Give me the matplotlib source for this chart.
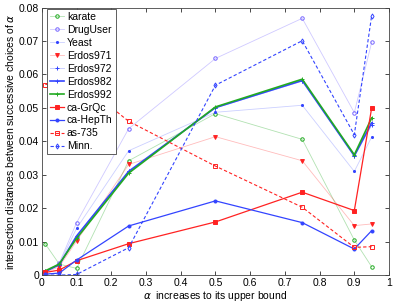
import matplotlib
matplotlib.use("Agg")
import matplotlib.pyplot as plt
from matplotlib.colors import to_rgba

plt.rcParams['font.family'] = ['Liberation Sans', 'DejaVu Sans']

x = [0.01, 0.05, 0.1, 0.25, 0.5, 0.75, 0.9, 0.95]

karate   = [0.0093, 0.0033, 0.0020, 0.0342, 0.0483, 0.0406, 0.0105, 0.0025]
druguser = [0.0010, 0.0036, 0.0157, 0.0438, 0.0648, 0.0768, 0.0486, 0.0696]
yeast    = [0.0010, 0.0033, 0.0140, 0.0372, 0.0487, 0.0508, 0.0310, 0.0413]
erdos971 = [0.0008, 0.0025, 0.0102, 0.0331, 0.0414, 0.0342, 0.0148, 0.0153]
erdos972 = [0.0010, 0.0030, 0.0115, 0.0312, 0.0500, 0.0580, 0.0355, 0.0448]
erdos982 = [0.0011, 0.0031, 0.0117, 0.0310, 0.0501, 0.0582, 0.0357, 0.0455]
erdos992 = [0.0013, 0.0033, 0.0110, 0.0305, 0.0503, 0.0586, 0.0360, 0.0470]
cagrqc   = [0.0008, 0.0015, 0.0043, 0.0094, 0.0159, 0.0248, 0.0193, 0.0500]
cahepth  = [0.0003, 0.0006, 0.0045, 0.0147, 0.0222, 0.0157, 0.0078, 0.0133]
as735    = [0.0570, 0.0577, 0.0585, 0.0460, 0.0326, 0.0203, 0.0083, 0.0085]
minn     = [0.0000, 0.0000, 0.0002, 0.0082, 0.0568, 0.0701, 0.0420, 0.0776]

labels = ['karate', 'DrugUser', 'Yeast', 'Erdos971', 'Erdos972', 'Erdos982',
          'Erdos992', 'ca-GrQc', 'ca-HepTh', 'as-735', 'Minn.']
series = [karate, druguser, yeast, erdos971, erdos972, erdos982,
          erdos992, cagrqc, cahepth, as735, minn]

G = '#22aa22'
R = '#ff2222'
B = '#3344ff'
P = '#7766ff'
DASH = (0, (3, 2))
# (line color, line alpha, linestyle, linewidth, marker, marker color, marker size, filled)
styles = [
    (G, 0.35, '-', 0.6, 'o', G, 2.5, False),
    (P, 0.35, '-', 0.6, 'o', P, 2.5, False),
    (B, 0.25, '-', 0.6, '.', B, 3, True),
    (R, 0.3, '-', 0.6, 'v', R, 2.8, True),
    (B, 0.3, '-', 0.6, '+', B, 3, True),
    (B, 1.0, '-', 1.2, '+', B, 3, True),
    (G, 1.0, '-', 1.2, '+', G, 3, True),
    (R, 1.0, '-', 0.9, 's', R, 2.2, True),
    (B, 1.0, '-', 0.9, 'o', B, 2.2, True),
    (R, 1.0, DASH, 0.8, 's', R, 2.5, False),
    (B, 1.0, DASH, 0.8, 'd', B, 2.6, False),
]

fig = plt.figure(figsize=(3.99, 3.05), dpi=100)
ax = fig.add_axes([0.105, 0.098, 0.87, 0.877])

for lab, y, st in zip(labels, series, styles):
    lc, la, ls, lw, mk, mc, ms, filled = st
    ax.plot(x, y, color=to_rgba(lc, la), linestyle=ls, linewidth=lw,
            marker=mk, markersize=ms, markeredgecolor=mc,
            markerfacecolor=(mc if filled else 'none'), markeredgewidth=0.7,
            label=lab)

ax.set_xlim(0, 1)
ax.set_ylim(0, 0.08)
ax.set_xticks([0, 0.1, 0.2, 0.3, 0.4, 0.5, 0.6, 0.7, 0.8, 0.9, 1])
ax.set_xticklabels(['0', '0.1', '0.2', '0.3', '0.4', '0.5', '0.6', '0.7', '0.8', '0.9', '1'])
ax.set_yticks([0, 0.01, 0.02, 0.03, 0.04, 0.05, 0.06, 0.07, 0.08])
ax.set_yticklabels(['0', '0.01', '0.02', '0.03', '0.04', '0.05', '0.06', '0.07', '0.08'])
ax.tick_params(direction='in', top=True, right=True, labelsize=7.5, length=3, width=0.5, pad=2)
for s in ax.spines.values():
    s.set_linewidth(0.6)
    s.set_color('#444444')

ax.set_xlabel(r'$\alpha$  increases to its upper bound', fontsize=7.5, labelpad=1)
ax.set_ylabel(r'intersection distances between successive choices of $\alpha$', fontsize=7.5, labelpad=2)

leg = ax.legend(loc='upper left', bbox_to_anchor=(0.015, 0.995), fontsize=7.5,
                frameon=True, fancybox=False, edgecolor='#444444', framealpha=1,
                handlelength=1.3, handletextpad=0.3, labelspacing=0.28,
                borderpad=0.3, borderaxespad=0.0)
leg.get_frame().set_linewidth(0.6)

fig.savefig('out.png', dpi=100)
